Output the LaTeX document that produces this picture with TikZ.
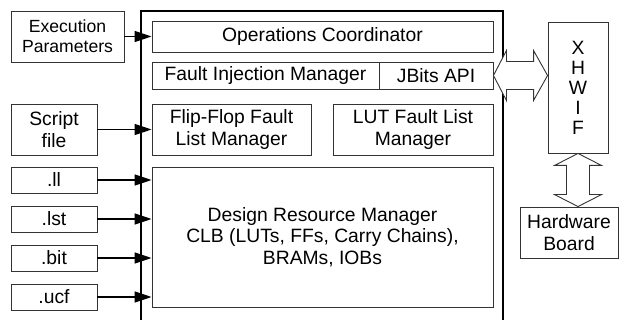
\documentclass[tikz,border=0pt]{standalone}
\usepackage{fontspec}
\setmainfont{Liberation Sans}
\usepackage{tikz}
\usetikzlibrary{arrows.meta,calc}

\tikzset{
  blk/.style={draw=black!80, line width=0.9pt, inner sep=0pt, align=center,
    font=\fontsize{19.3}{21.5}\selectfont},
  feed/.style={line width=1.3pt, -{Triangle[length=17pt,width=11pt]}},
  frame/.style={line width=2pt},
  fatarrow/.style={draw=black!80, line width=0.9pt, fill=white, line join=miter},
}

\begin{document}
\begin{tikzpicture}[x=1pt,y=-1pt]
\useasboundingbox (0,0) rectangle (623,320);

% the tool frame (open at the bottom)
\draw[frame] (141,322) -- (141,11) -- (503,11) -- (503,322);

% inputs
\node[blk, minimum width=113, minimum height=51, font=\fontsize{17.6}{20}\selectfont]
  (exec) at (67.5,36.5) {Execution\\Parameters};
\node[blk, minimum width=86, minimum height=51] (script) at (54,129.5) {Script\\file};
\node[blk, minimum width=86, minimum height=26] (ll)  at (54,180) {.ll};
\node[blk, minimum width=86, minimum height=26] (lst) at (54,219) {.lst};
\node[blk, minimum width=86, minimum height=26] (bit) at (54,258) {.bit};
\node[blk, minimum width=86, minimum height=26] (ucf) at (54,297) {.ucf};

% inside the tool
\node[blk, minimum width=341, minimum height=31] (opc) at (322.5,36.5) {Operations Coordinator};
\node[blk, minimum width=227, minimum height=27] (fim) at (265.5,75.5) {Fault Injection Manager};
\node[blk, minimum width=114, minimum height=27] (jbits) at (436,75.5) {JBits API};
\node[blk, minimum width=159, minimum height=51] (ffl) at (231.5,129.5) {Flip-Flop Fault\\List Manager};
\node[blk, minimum width=160, minimum height=51] (lutl) at (413,129.5) {LUT Fault List\\Manager};
\node[blk, minimum width=341, minimum height=140] (drm) at (322.5,237)
  {Design Resource Manager\\CLB (LUTs, FFs, Carry Chains),\\BRAMs, IOBs};

% hardware side
\node[blk, minimum width=60, minimum height=131, font=\fontsize{19.3}{20}\selectfont]
  (xhwif) at (578,87.5) {X\\H\\W\\I\\F};
\node[blk, minimum width=98, minimum height=51] (hw) at (569,232.5) {Hardware\\Board};

% feeds into the tool
\draw[feed] (exec.east) -- (opc.west);
\draw[feed] (script.east) -- (ffl.west);
\foreach \f in {ll,lst,bit,ucf}
  \draw[feed] (\f.east) -- (\f.east -| drm.west);

% JBits <-> XHWIF
\coordinate (jt) at (xhwif.west |- jbits.east);
\draw[fatarrow] (jbits.east) -- ++(13,-25) -- ++(0,11) -- ($(jt)+(-14,-14)$)
  -- ++(0,-11) -- (jt) -- ++(-14,25) -- ++(0,-11) -- ($(jbits.east)+(13,14)$)
  -- ++(0,11) -- cycle;

% XHWIF <-> board
\coordinate (hb) at (xhwif.south |- hw.north);
\draw[fatarrow] (xhwif.south) -- ++(-23.5,12) -- ++(12,0) -- ($(hb)+(-11.5,-12)$)
  -- ++(-12,0) -- (hb) -- ++(23.5,-12) -- ++(-12,0) -- ($(xhwif.south)+(11.5,12)$)
  -- ++(12,0) -- cycle;
\end{tikzpicture}
\end{document}
